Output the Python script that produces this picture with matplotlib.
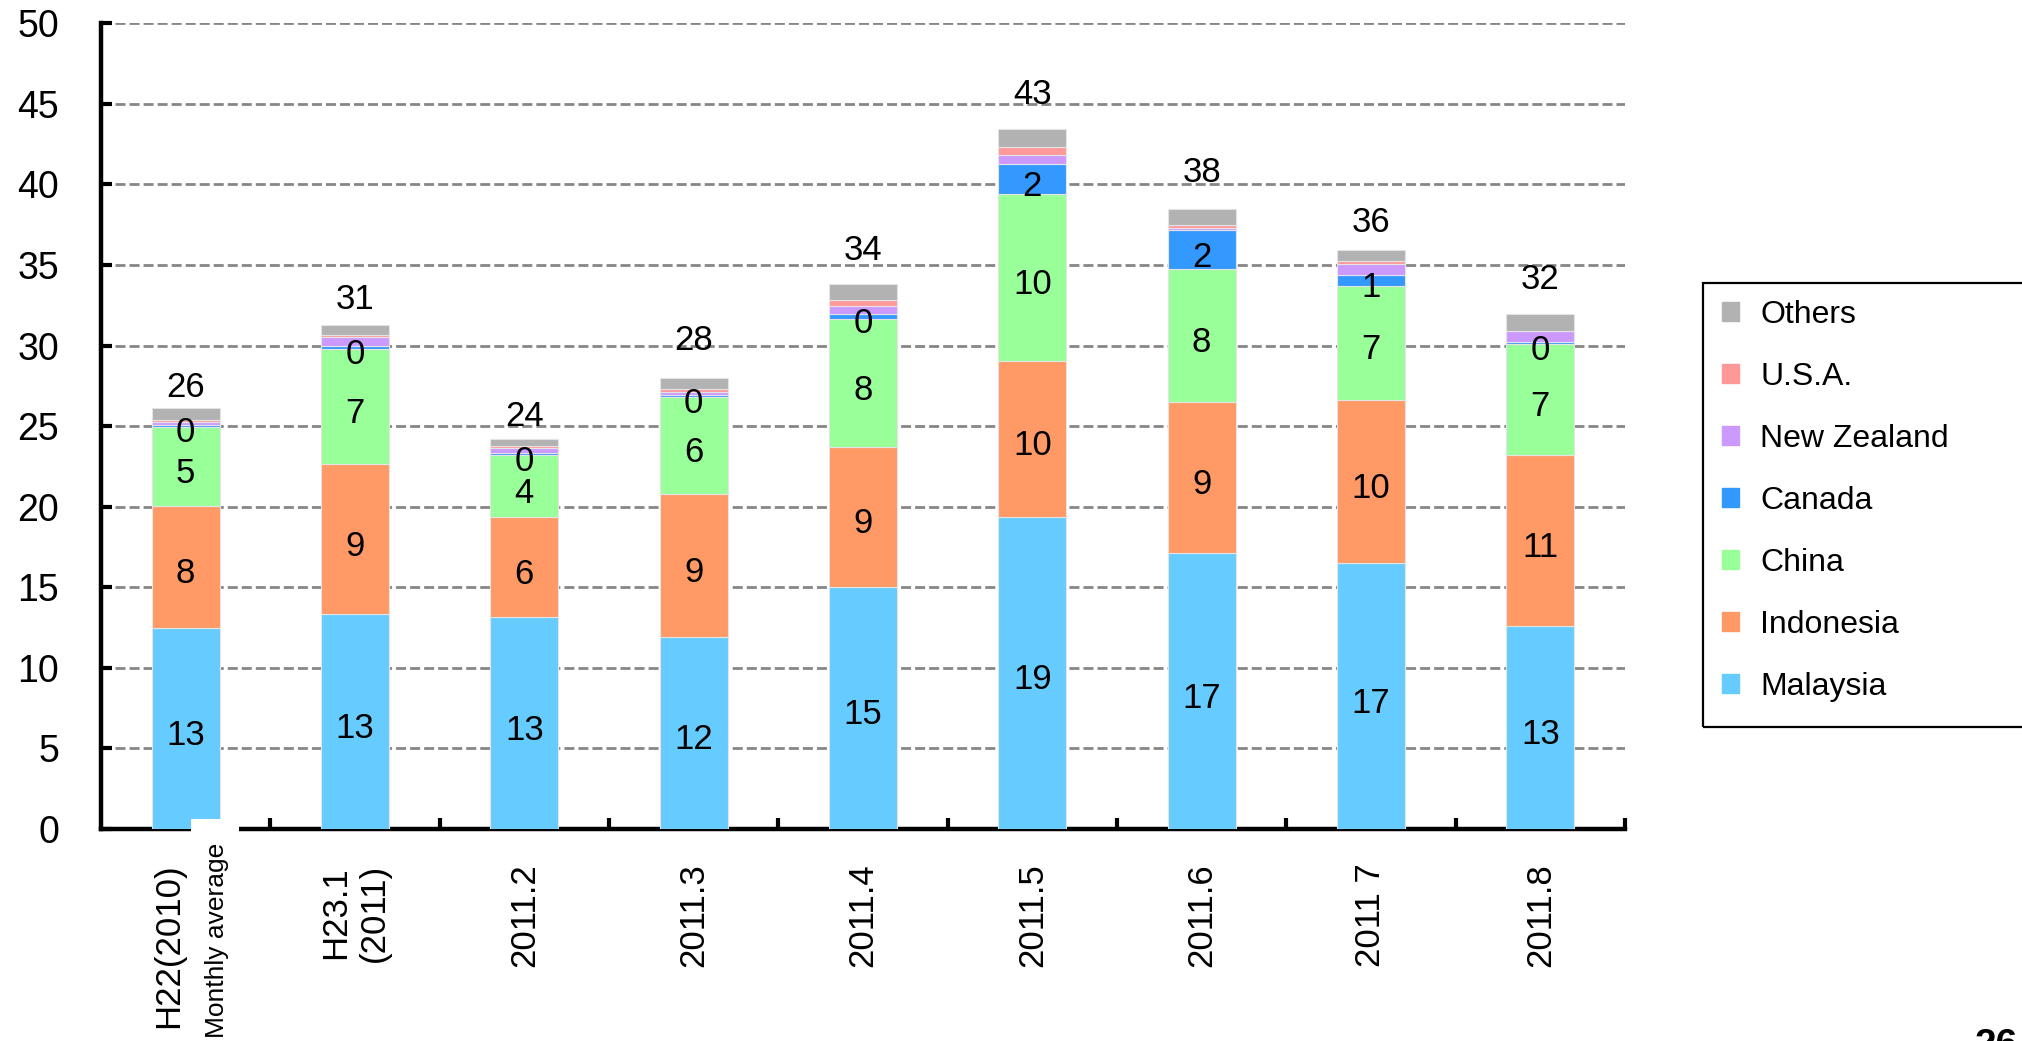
import numpy as np
import matplotlib.pyplot as plt
from matplotlib.patches import Patch, Rectangle
from matplotlib.transforms import ScaledTranslation

plt.rcParams['font.family'] = ['Liberation Sans', 'DejaVu Sans']

# monthly imports by country
xlabels = ['H22(2010)', 'H23.1\n(2011)', '2011.2', '2011.3', '2011.4',
           '2011.5', '2011.6', '2011 7', '2011.8']
malaysia = [12.5, 13.34, 13.14, 11.94, 15.04, 19.38, 17.11, 16.5, 12.62]
indonesia = [7.56, 9.31, 6.22, 8.83, 8.68, 9.67, 9.38, 10.15, 10.57]
china = [4.89, 7.15, 3.85, 6.02, 7.93, 10.33, 8.24, 7.05, 6.89]
canada = [0.15, 0.15, 0.10, 0.15, 0.30, 1.90, 2.42, 0.66, 0.12]
new_zealand = [0.16, 0.60, 0.35, 0.16, 0.50, 0.52, 0.15, 0.70, 0.68]
usa = [0.15, 0.10, 0.10, 0.20, 0.40, 0.52, 0.20, 0.19, 0.02]
others = [0.71, 0.65, 0.45, 0.69, 1.00, 1.13, 0.95, 0.68, 1.05]

# gap (points) between bar top and its total label, as in the original
total_gap = [8, 11, 9, 20, 17, 18, 20, 13, 18]

series = [('Malaysia', malaysia, '#66CCFF', True),
          ('Indonesia', indonesia, '#FF9966', True),
          ('China', china, '#99FF99', True),
          ('Canada', canada, '#3399FF', True),
          ('New Zealand', new_zealand, '#CC99FF', False),
          ('U.S.A.', usa, '#FF9999', False),
          ('Others', others, '#B2B2B2', False)]


def xl_round(v):
    return str(int(v + 0.5))


fig = plt.figure(figsize=(20.22, 10.41), dpi=100)
ax = fig.add_axes([0.04995, 0.2037, 0.7537, 0.7739])

x = np.arange(len(xlabels))
bottom = np.zeros(len(x))
for name, vals, color, show in series:
    vals = np.array(vals)
    ax.bar(x, vals, 0.4, bottom=bottom, color=color, edgecolor='#e4e4e4',
           linewidth=0.8, zorder=3, label=name)
    if show:
        for xi, b, v in zip(x, bottom, vals):
            ax.annotate(xl_round(v), (xi, b + v / 2), xytext=(0, -12),
                        textcoords='offset points', ha='center', va='baseline',
                        fontsize=25, zorder=7)
    bottom = bottom + vals

for xi, tot, gap in zip(x, bottom, total_gap):
    ax.annotate(xl_round(tot), (xi, tot), xytext=(0, gap), textcoords='offset points',
                ha='center', va='baseline', fontsize=25)

ax.set_xlim(-0.5, 8.5)
ax.set_ylim(0, 50)
ax.set_yticks(np.arange(0, 51, 5))
ax.yaxis.grid(True, color='#868686', linestyle=(0, (3.6, 1.45)), linewidth=2)
ax.set_axisbelow(True)

for s in ['top', 'right']:
    ax.spines[s].set_visible(False)
for s in ['left', 'bottom']:
    ax.spines[s].set_linewidth(3.2)

ax.tick_params(axis='y', direction='in', length=8, width=3, labelsize=27, pad=30)
ax.set_xticks(np.arange(0.5, 9, 1))
ax.set_xticklabels([])
ax.tick_params(axis='x', which='major', direction='in', length=8, width=3)
ax.set_xticks(x, minor=True)
ax.set_xticklabels(xlabels, minor=True, rotation=90, fontsize=25,
                   va='top', ha='center', multialignment='center')
ax.tick_params(axis='x', which='minor', length=0, pad=25)

# first label sits a little left, with a small note beside it
first = ax.get_xticklabels(minor=True)[0]
first.set_transform(first.get_transform() + ScaledTranslation(-0.17, 0, fig.dpi_scale_trans))
ax.add_patch(Rectangle((0.03, -2.0), 0.283, 2.62, facecolor='white', edgecolor='none',
                       clip_on=False, zorder=5))
ax.annotate('Monthly average', (0.185, 0), xytext=(0, -10), textcoords='offset points',
            rotation=90, ha='center', va='top', fontsize=19, zorder=6,
            annotation_clip=False)

# legend, box runs off the right edge
handles = [Patch(color=c, label=n) for n, v, c, s in series][::-1]
fig.legend(handles=handles, loc='upper left', bbox_to_anchor=(1722 / 2022, 1 - 300 / 1041),
           frameon=False, fontsize=23, handlelength=0.53, handleheight=0.53,
           handletextpad=0.66, labelspacing=1.0, borderpad=0, borderaxespad=0)
fig.patches.append(Rectangle((1703 / 2022, 1 - 727 / 1041), 0.2, 444 / 1041,
                             transform=fig.transFigure, fill=False,
                             edgecolor='black', linewidth=1.6))

fig.text(1975 / 2022, 1 - 1028 / 1041, '26', ha='left', va='top', fontsize=28,
         fontweight='bold')

fig.savefig('out.png', dpi=100)
